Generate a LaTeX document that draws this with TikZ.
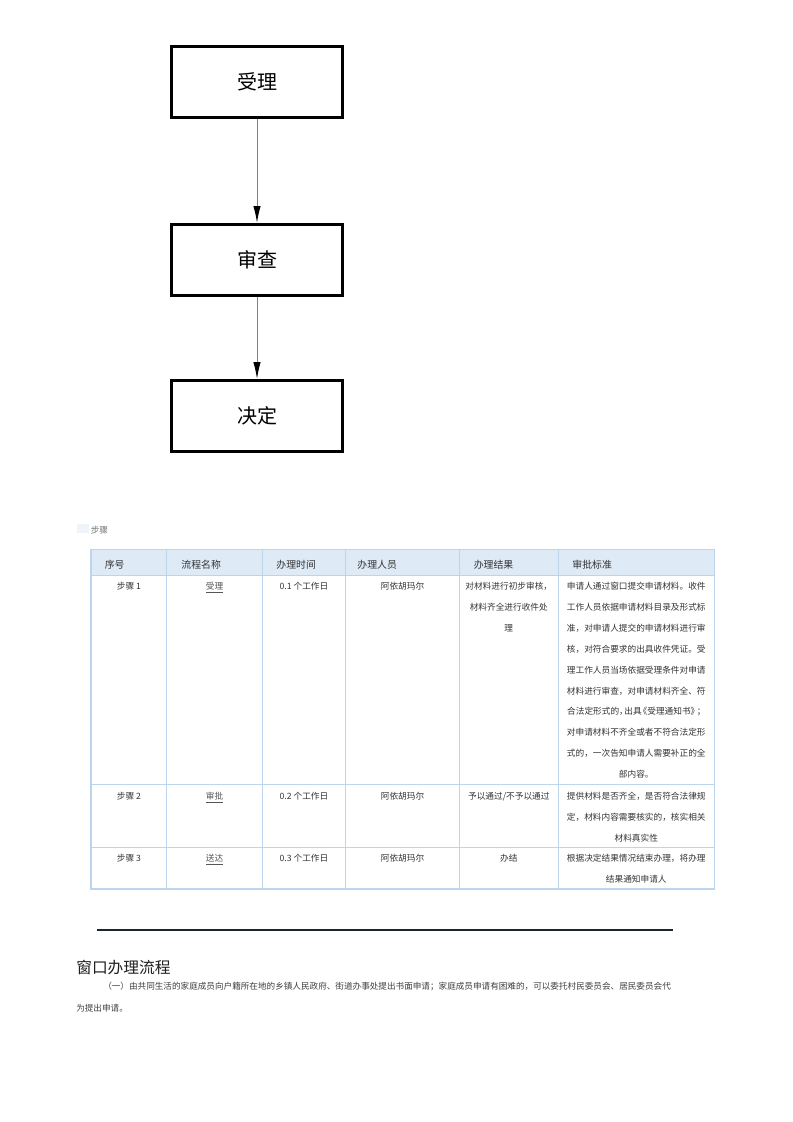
\documentclass[tikz,border=0pt]{standalone}
\usepackage{fontspec}
\setmainfont{Noto Sans CJK SC}
\usetikzlibrary{arrows.meta}
\definecolor{tline}{HTML}{BCD4EC}
\definecolor{thead}{HTML}{DEEAF6}
\definecolor{txt}{HTML}{333333}
\definecolor{lnk}{HTML}{555555}
\definecolor{rulec}{HTML}{1C2333}
\definecolor{tabfaint}{HTML}{EEF4FA}
\begin{document}
\begin{tikzpicture}[x=0.75pt,y=-0.75pt,
  flowbox/.style={draw=black,line width=2.6pt,minimum width=128.6pt,minimum height=53.25pt,inner sep=0pt,font=\fontsize{15}{18}\selectfont},
  flowarrow/.style={draw=black!50,line width=0.7pt,-{Latex[length=12.5pt,width=5.5pt,color=black]}},
  tablegrid/.style={draw=tline,line width=1pt},
  hdr/.style={anchor=west,inner sep=0pt,font=\fontsize{7.4}{9}\selectfont,text=txt},
  cell/.style={anchor=north,inner sep=0pt,align=center,font=\fontsize{6.5}{15.7}\selectfont,text=txt},
  linkcell/.style={cell,text=lnk},
  para/.style={anchor=west,inner sep=0pt,font=\fontsize{6.45}{8}\selectfont,text=black!75}
]
\fill[white] (0,0) rectangle (793,1122);
\useasboundingbox (0,0) rectangle (793,1122);

% flowchart
\node[flowbox] (b1) at (257,82.1) {受理};
\node[flowbox] (b2) at (257,260) {审查};
\node[flowbox] (b3) at (257,416.1) {决定};
\draw[flowarrow] (b1.south) -- (b2.north);
\draw[flowarrow] (b2.south) -- (b3.north);

% label above table
\fill[tabfaint] (76.7,524.3) rectangle (89.3,533.3);
\node[anchor=west,inner sep=0pt,font=\fontsize{6.5}{8}\selectfont,text=black!55] (steplabel) at (90.5,530) {步骤};

% table
\fill[thead] (91,549.3) rectangle (714.3,575.7);
\draw[tablegrid] (91,549.3) rectangle (714.3,889);
\foreach \yy in {575.7,784.3,847.3} \draw[tablegrid] (91,\yy) -- (714.3,\yy);
\foreach \xx in {166.7,262.3,345.7,459.3,558.3} \draw[tablegrid] (\xx,549.3) -- (\xx,889);

\node[hdr] (h1) at (104.5,564.3) {序号};
\node[hdr] (h2) at (181.2,564.3) {流程名称};
\node[hdr] (h3) at (276.2,564.3) {办理时间};
\node[hdr] (h4) at (357.2,564.3) {办理人员};
\node[hdr] (h5) at (473.5,564.3) {办理结果};
\node[hdr] (h6) at (572.2,564.3) {审批标准};

% row 1
\node[cell] (r1c1) at (128.9,581.7) {步骤 1};
\node[linkcell] (r1c2) at (214.5,581.7) {\underline{受理}};
\node[cell] (r1c3) at (304,581.7) {0.1 个工作日};
\node[cell] (r1c4) at (402.5,581.7) {阿依胡玛尔};
\node[cell] (r1c5) at (508.8,581.7) {对材料进行初步审核，\\材料齐全进行收件处\\理};
\node[cell] (r1c6) at (636.3,581.7) {申请人通过窗口提交申请材料。收件\\工作人员依据申请材料目录及形式标\\准，对申请人提交的申请材料进行审\\核，对符合要求的出具收件凭证。受\\理工作人员当场依据受理条件对申请\\材料进行审查，对申请材料齐全、符\\合法定形式的，\kern-0.4em 出具\kern-0.35em《受理通知书》\kern-0.3em；\\对申请材料不齐全或者不符合法定形\\式的，一次告知申请人需要补正的全\\部内容。};

% row 2
\node[cell] (r2c1) at (128.9,791.7) {步骤 2};
\node[linkcell] (r2c2) at (214.5,791.7) {\underline{审批}};
\node[cell] (r2c3) at (304,791.7) {0.2 个工作日};
\node[cell] (r2c4) at (402.5,791.7) {阿依胡玛尔};
\node[cell] (r2c5) at (508.8,791.7) {予以通过/不予以通过};
\node[cell] (r2c6) at (636.3,791.7) {提供材料是否齐全，是否符合法律规\\定，材料内容需要核实的，核实相关\\材料真实性};

% row 3
\node[cell] (r3c1) at (128.9,854.2) {步骤 3};
\node[linkcell] (r3c2) at (214.5,854.2) {\underline{送达}};
\node[cell] (r3c3) at (304,854.2) {0.3 个工作日};
\node[cell] (r3c4) at (402.5,854.2) {阿依胡玛尔};
\node[cell] (r3c5) at (508.8,854.2) {办结};
\node[cell] (r3c6) at (636.3,854.2) {根据决定结果情况结束办理，将办理\\结果通知申请人};

% rule
\draw[rulec,line width=1.1pt] (97,930) -- (673,930);

% title and paragraph
\node[anchor=west,inner sep=0pt,font=\fontsize{11.8}{14}\selectfont,text=black!88] (title) at (76,967) {窗口办理流程};
\node[para] (p1) at (103,986) {（一）由共同生活的家庭成员向户籍所在地的乡镇人民政府、街道办事处提出书面申请；家庭成员申请有困难的，可以委托村民委员会、居民委员会代};
\node[para] (p2) at (76,1008) {为提出申请。};
\end{tikzpicture}
\end{document}
